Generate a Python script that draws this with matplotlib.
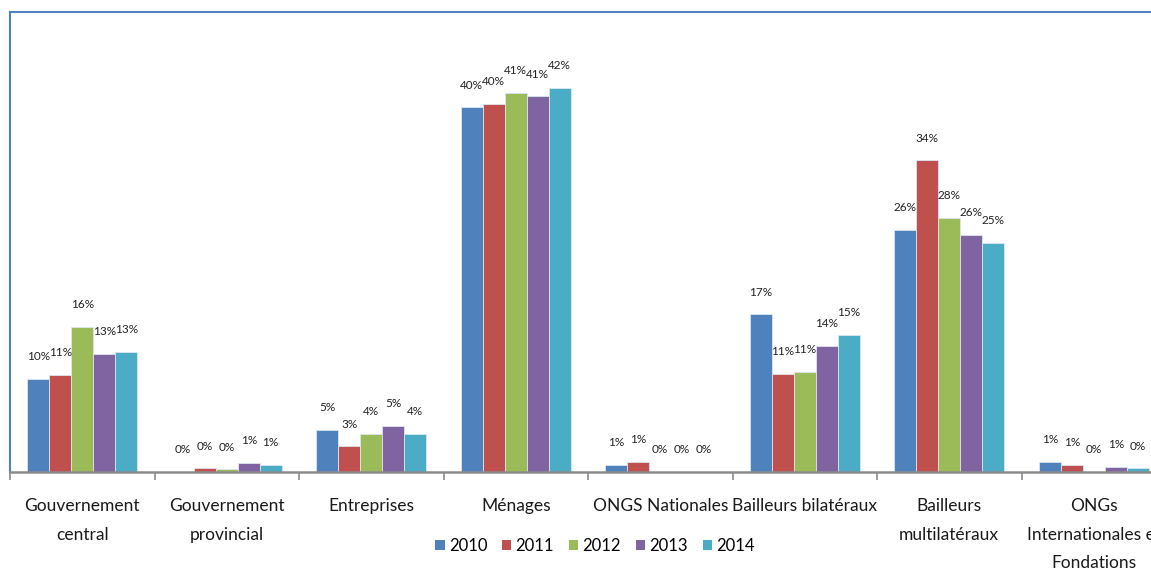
import numpy as np
import matplotlib.pyplot as plt
from matplotlib.patches import Patch

# sources of health financing, share per year
categories = [
    "Gouvernement\ncentral",
    "Gouvernement\nprovincial",
    "Entreprises",
    "Ménages",
    "ONGS Nationales",
    "Bailleurs bilatéraux",
    "Bailleurs\nmultilatéraux",
    "ONGs\nInternationales et\nFondations",
]
years = ["2010", "2011", "2012", "2013", "2014"]

share_2010 = [10.2, 0.0, 4.6, 39.8, 0.8, 17.2, 26.4, 1.1]
share_2011 = [10.6, 0.4, 2.8, 40.2, 1.1, 10.7, 34.0, 0.8]
share_2012 = [15.8, 0.3, 4.2, 41.4, 0.0, 10.9, 27.7, 0.0]
share_2013 = [12.9, 1.0, 5.0, 41.0, 0.0, 13.8, 25.9, 0.6]
share_2014 = [13.1, 0.8, 4.2, 41.9, 0.0, 15.0, 25.0, 0.4]
series = [share_2010, share_2011, share_2012, share_2013, share_2014]

colors = ["#4F81BD", "#C0504D", "#9BBB59", "#8064A2", "#4BACC6"]

plt.rcParams["font.family"] = ["Lato", "DejaVu Sans"]

W, H = 1151, 569
fig = plt.figure(figsize=(W / 100, H / 100), dpi=100)
# axes runs past the right edge of the figure
left_px, top_px, base_px, cat_px = 10, 12, 472, 144.5
ax = fig.add_axes([left_px / W, (H - base_px) / H,
                   len(categories) * cat_px / W, (base_px - top_px) / H])

x = np.arange(len(categories))
bw = 0.152
for i, (vals, c, yr) in enumerate(zip(series, colors, years)):
    pos = x + (i - 2) * bw
    ax.bar(pos, vals, width=bw, color=c, edgecolor="#dde6f0",
           linewidth=0.6, label=yr)
    for xp, v in zip(pos, vals):
        ax.annotate(f"{v:.0f}%", (xp, v), xytext=(0, 16), textcoords="offset points",
                    ha="center", va="center", fontsize=8.5, color="#222222")

ax.set_xlim(-0.5, len(categories) - 0.5)
ax.set_ylim(0, 50.2)
ax.set_yticks([])

for s in ["top", "left"]:
    ax.spines[s].set_color("#4F81BD")
    ax.spines[s].set_linewidth(1.5)
ax.spines["right"].set_visible(False)
ax.spines["bottom"].set_color("#8c8c8c")
ax.spines["bottom"].set_linewidth(1.8)

ax.set_xticks(x)
ax.set_xticklabels(categories, fontsize=12.5, color="#1a1a1a", linespacing=1.95)
ax.tick_params(axis="x", length=0, pad=19)
ax.set_xticks(np.arange(len(categories) + 1) - 0.5, minor=True)
ax.tick_params(axis="x", which="minor", length=6, color="#8c8c8c", width=1.2)

handles = [Patch(facecolor=c, label=yr) for c, yr in zip(colors, years)]
fig.legend(handles=handles, loc="center", bbox_to_anchor=(595 / W, 1 - 546 / H),
           ncol=5, frameon=False, fontsize=12, handlelength=0.55, handleheight=0.55,
           handletextpad=0.25, columnspacing=0.9)

fig.savefig("out.png", dpi=100)
